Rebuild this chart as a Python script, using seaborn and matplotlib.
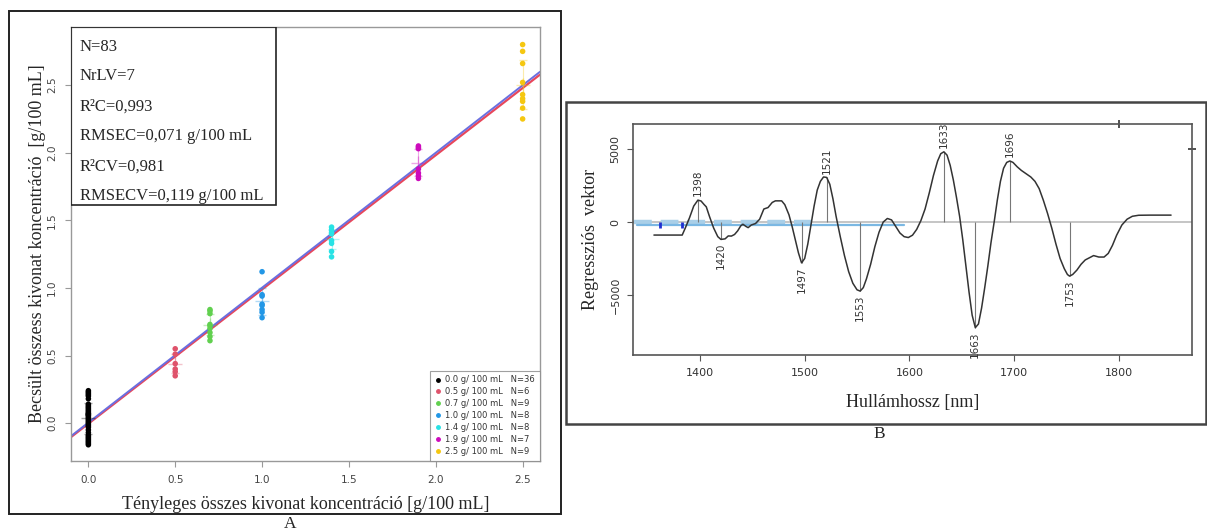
import matplotlib
matplotlib.use("Agg")
import matplotlib.pyplot as plt
import numpy as np
import pandas as pd
import seaborn as sns
from matplotlib.patches import Rectangle

# ---------- A panel: measured vs. predicted ----------
concentrations = [0.0, 0.5, 0.7, 1.0, 1.4, 1.9, 2.5]
group_colors = ["#000000", "#DF536B", "#61D04F", "#2297E6", "#28E2E5", "#CD0BBC", "#F5C710"]
pred_00 = [0.24, 0.23, 0.22, 0.21, 0.20, 0.18, 0.14, 0.13, 0.12, 0.11,
           0.10, 0.09, 0.08, 0.07, 0.07, 0.06, 0.06, 0.05, 0.04, 0.03,
           0.02, 0.01, 0.00, -0.01, -0.02, -0.03, -0.05, -0.07, -0.09, -0.10,
           -0.11, -0.12, -0.13, -0.14, -0.15, -0.16]
pred_05 = [0.55, 0.51, 0.44, 0.40, 0.38, 0.35]
pred_07 = [0.84, 0.83, 0.81, 0.73, 0.72, 0.70, 0.67, 0.64, 0.61]
pred_10 = [1.12, 0.95, 0.94, 0.88, 0.87, 0.84, 0.82, 0.78]
pred_14 = [1.45, 1.43, 1.41, 1.40, 1.35, 1.33, 1.27, 1.23]
pred_19 = [2.05, 2.04, 2.03, 1.88, 1.85, 1.83, 1.81]
pred_25 = [2.80, 2.75, 2.66, 2.52, 2.43, 2.40, 2.38, 2.33, 2.25]
predicted = [pred_00, pred_05, pred_07, pred_10, pred_14, pred_19, pred_25]

# calibration (red) and cross-validation (blue) fit lines: slope, intercept
fit_cal = (0.993, -0.004)
fit_cv = (0.998, 0.004)

stats_lines = ["N=83", "NrLV=7", "R\u00b2C=0,993", "RMSEC=0,071 g/100 mL",
               "R\u00b2CV=0,981", "RMSECV=0,119 g/100 mL"]

# ---------- B panel: regression vector ----------
wavelength = [1356, 1383, 1386, 1390, 1394, 1398, 1401, 1404, 1406, 1409, 1413, 1417, 1420,
              1424, 1427, 1430, 1433, 1436, 1439, 1441, 1444, 1446, 1449, 1453, 1457, 1461,
              1465, 1469, 1472, 1478, 1481, 1485, 1488, 1491, 1494, 1497, 1500, 1503, 1506,
              1509, 1512, 1515, 1518, 1521, 1524, 1527, 1530, 1534, 1538, 1542, 1546, 1550,
              1553, 1556, 1559, 1563, 1567, 1571, 1575, 1579, 1583, 1587, 1591, 1595, 1599,
              1603, 1607, 1611, 1615, 1619, 1623, 1627, 1630, 1633, 1636, 1639, 1642, 1645,
              1648, 1651, 1654, 1657, 1660, 1663, 1666, 1669, 1672, 1675, 1678, 1681, 1684,
              1687, 1690, 1693, 1696, 1699, 1703, 1707, 1712, 1716, 1720, 1724, 1728, 1732,
              1736, 1740, 1744, 1748, 1751, 1753, 1756, 1760, 1764, 1768, 1772, 1776, 1781,
              1786, 1790, 1794, 1798, 1803, 1808, 1813, 1819, 1830, 1850]
reg_vector = [-890, -890, -400, 300, 1100, 1510, 1450, 1200, 1050, 400, -400, -1000, -1190,
              -1150, -950, -960, -850, -600, -250, -150, -300, -380, -200, -100, 200, 900,
              1000, 1350, 1460, 1460, 1200, 500, -300, -1200, -2100, -2800, -2500, -1500, -200,
              1100, 2200, 2800, 3100, 3070, 2600, 1600, 400, -1000, -2300, -3400, -4200, -4650,
              -4740, -4500, -3900, -2900, -1700, -700, 0, 250, 150, -300, -750, -1000, -1060,
              -900, -500, 100, 900, 2000, 3200, 4200, 4700, 4830, 4600, 3900, 2900, 1700,
              400, -1200, -3000, -4800, -6400, -7250, -7000, -5900, -4500, -3000, -1400, 0, 1500,
              2800, 3700, 4100, 4200, 4100, 3800, 3550, 3300, 3100, 2800, 2300, 1500, 600,
              -400, -1500, -2500, -3200, -3600, -3710, -3600, -3300, -2900, -2600, -2450, -2300, -2400,
              -2400, -2150, -1600, -900, -200, 200, 400, 470, 480, 480]
peak_wl = [1398, 1420, 1497, 1521, 1553, 1633, 1663, 1696, 1753]

sns.set_theme(style="white")
plt.rcParams["font.family"] = ["Liberation Serif", "DejaVu Serif"]

fig = plt.figure(figsize=(12.07, 5.32), dpi=100)
W, H = 1207, 532

def fig_box(x0, y0, x1, y1):
    # pixel box (top-left origin) -> figure fraction rect
    return [x0 / W, 1 - y1 / H, (x1 - x0) / W, (y1 - y0) / H]

def frame(x0, y0, x1, y1, **kw):
    r = fig_box(x0, y0, x1, y1)
    fig.patches.append(Rectangle((r[0], r[1]), r[2], r[3], transform=fig.transFigure,
                                 fill=False, **kw))

# outer frames
frame(9, 11, 561, 514, ec="#222222", lw=1.4)
frame(566, 102, 1206, 424, ec="#444444", lw=1.8)
fig.text(290 / W, 1 - 524 / H, "A", ha="center", va="center", fontsize=12.5)
fig.text(879 / W, 1 - 434 / H, "B", ha="center", va="center", fontsize=12.5)

# ---------------- panel A ----------------
axA = fig.add_axes(fig_box(71, 27, 540, 461))
df = pd.DataFrame({
    "actual": np.repeat(concentrations, [len(p) for p in predicted]),
    "pred": np.concatenate(predicted),
})
df["group"] = df["actual"].map(lambda c: f"{c:.1f} g/ 100 mL")
counts = df.groupby("group").size()
labels = [f"{c:.1f} g/ 100 mL" for c in concentrations]
palette = dict(zip(labels, group_colors))

xline = np.array([-0.1, 2.6])
axA.plot(xline, fit_cal[0] * xline + fit_cal[1], color="#E8475B", lw=1.6, zorder=2)
axA.plot(xline, fit_cv[0] * xline + fit_cv[1], color="#6A6FE0", lw=1.4, zorder=2)

# mean +/- sd crosses
for c, col, vals in zip(concentrations, group_colors, predicted):
    axA.errorbar(c, np.mean(vals), yerr=np.std(vals), fmt="+", color=col, alpha=0.35,
                 ms=10, capsize=3, lw=0.8, zorder=3)

sns.scatterplot(data=df, x="actual", y="pred", hue="group", hue_order=labels,
                palette=palette, s=16, edgecolor="none", ax=axA, zorder=4, legend=False)

axA.set_xlim(-0.1, 2.6)
axA.set_ylim(-0.28, 2.93)
axA.set_xticks([0.0, 0.5, 1.0, 1.5, 2.0, 2.5])
axA.set_yticks([0.0, 0.5, 1.0, 1.5, 2.0, 2.5])
axA.xaxis.set_major_formatter(matplotlib.ticker.FormatStrFormatter("%.1f"))
axA.yaxis.set_major_formatter(matplotlib.ticker.FormatStrFormatter("%.1f"))
axA.tick_params(axis="both", direction="out", length=4, width=0.8, colors="#999999",
                labelcolor="#444444", labelsize=7.5, bottom=True, left=True, pad=6)
for lab in axA.get_xticklabels() + axA.get_yticklabels():
    lab.set_fontfamily("DejaVu Sans")
axA.tick_params(axis="y", labelrotation=90)
for lab in axA.get_yticklabels():
    lab.set_va("center")
for sp in axA.spines.values():
    sp.set_color("#999999")
    sp.set_linewidth(1.0)
axA.set_xlabel("Tényleges összes kivonat koncentráció [g/100 mL]", fontsize=13, labelpad=8)
axA.set_ylabel("Becsült összess kivonat koncentráció  [g/100 mL]", fontsize=13, labelpad=1)

# statistics box
axA.add_patch(Rectangle((0, 0.59), 0.437, 0.41, transform=axA.transAxes, fill=False,
                        ec="#222222", lw=1.2, zorder=5))
for i, line in enumerate(stats_lines):
    axA.text(0.019, 0.955 - i * 0.069, line, transform=axA.transAxes, fontsize=12,
             va="center", ha="left", zorder=6)

# legend
handles = [plt.Line2D([], [], marker="o", ls="", color=col, ms=2.5) for col in group_colors]
leg_labels = [f"{lab}   N={counts[lab]}" for lab in labels]
leg = axA.legend(handles, leg_labels, loc="lower right", frameon=True,
                 fancybox=False, edgecolor="#888888", borderaxespad=0, handlelength=0.6,
                 handletextpad=0.6, labelspacing=0.35, borderpad=0.6,
                 prop={"family": "DejaVu Sans", "size": 6.0})
leg.get_frame().set_linewidth(0.8)
for t in leg.get_texts():
    t.set_color("#333333")

# ---------------- panel B ----------------
axB = fig.add_axes(fig_box(633, 124, 1192, 355))
spec = pd.DataFrame({"wl": wavelength, "coef": reg_vector})

axB.axhline(0, color="#BBBBBB", lw=1.2, zorder=1)
axB.plot([1337, 1515], [0, 0], color="#A9CFE8", lw=3.2, ls=(0, (4, 2)), zorder=2)
axB.plot([1340, 1595], [-200, -200], color="#7BB8E3", lw=1.6, zorder=3)
axB.plot([1440, 1495], [-120, -120], color="#999999", lw=0.8, zorder=2)
axB.plot([1362, 1383], [-200, -200], ls="", marker="|", color="#1F2FD0", ms=4, mew=2, zorder=4)

sns.lineplot(data=spec, x="wl", y="coef", color="#333333", lw=1.1, ax=axB, zorder=5)

peak_val = np.interp(peak_wl, wavelength, reg_vector)
axB.vlines(peak_wl, 0, peak_val, color="#777777", lw=0.8, zorder=4)
for wl, v in zip(peak_wl, peak_val):
    if v > 0:
        axB.text(wl, v + 250, str(wl), rotation=90, ha="center", va="bottom",
                 fontsize=7.5, family="DejaVu Sans", color="#333333")
    else:
        axB.text(wl, v - 250, str(wl), rotation=90, ha="center", va="top",
                 fontsize=7.5, family="DejaVu Sans", color="#333333")

axB.set_xlim(1336, 1870)
axB.set_ylim(-9130, 6740)
axB.set_xticks([1400, 1500, 1600, 1700, 1800])
axB.set_yticks([-5000, 0, 5000])
axB.tick_params(axis="both", direction="out", length=4, width=0.8, colors="#555555",
                labelcolor="#333333", labelsize=8, bottom=True, left=True, pad=5)
for lab in axB.get_xticklabels() + axB.get_yticklabels():
    lab.set_fontfamily("DejaVu Sans")
axB.tick_params(axis="y", labelrotation=90)
for lab in axB.get_yticklabels():
    lab.set_va("center")
for sp in axB.spines.values():
    sp.set_color("#555555")
    sp.set_linewidth(1.2)
# stray tick marks on the top and right edges
axB.plot([1800], [6740], marker="|", ms=6, mew=1.2, color="#333333", clip_on=False)
axB.plot([1870], [5000], marker="_", ms=6, mew=1.2, color="#333333", clip_on=False)
axB.set_xlabel("Hullámhossz [nm]", fontsize=13, labelpad=12)
axB.set_ylabel("Regressziós  vektor", fontsize=13, labelpad=8)

fig.savefig("out.png", dpi=100)
